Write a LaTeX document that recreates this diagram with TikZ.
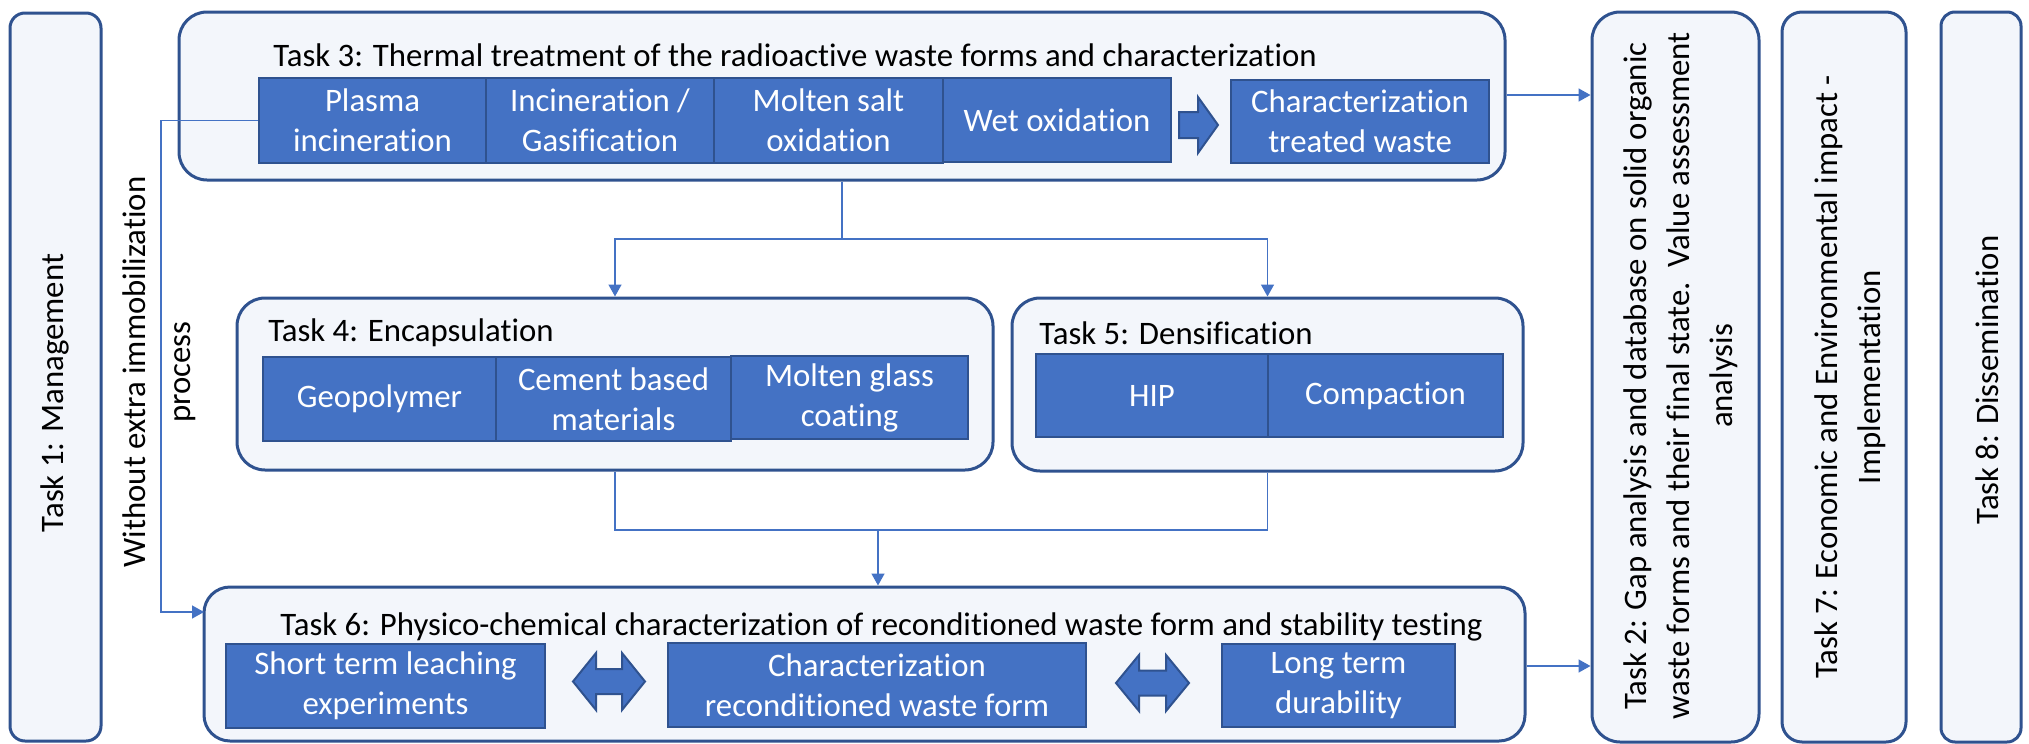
\documentclass[tikz,border=0pt]{standalone}
\usepackage{fontspec}
\setmainfont{Carlito}[Ligatures=NoCommon]
\usetikzlibrary{arrows.meta}
\definecolor{bfill}{RGB}{68,114,196}
\definecolor{bdr}{RGB}{47,82,143}
\definecolor{lbg}{HTML}{F3F6FB}
\definecolor{lnk}{RGB}{68,114,196}
\begin{document}
\begin{tikzpicture}[x=0.5pt,y=-0.5pt,
  outer/.style={draw=bdr, fill=lbg, line width=1.5pt, inner sep=0pt},
  inner/.style={draw=bdr, fill=bfill, line width=1pt, text=white, align=center, inner sep=0pt, font=\fontsize{16.4}{20}\selectfont},
  title/.style={anchor=west, inner sep=0pt, font=\fontsize{16.4}{20}\selectfont},
  vtext/.style={rotate=90, align=center, inner sep=0pt, font=\fontsize{16.4}{21.5}\selectfont},
  conn/.style={draw=lnk, line width=0.75pt},
  arr/.style={conn, -{Triangle[length=6pt,width=6.5pt]}},
  blockarrow/.style={draw=bdr, fill=bfill, line width=1pt, line join=miter}
]
\useasboundingbox (0,0) rectangle (2029,744);

% side tasks
\node[outer, rounded corners=7.5pt, minimum width=45.5pt, minimum height=364pt] (t1) at (55.5,377) {};
\node[vtext] (t1txt) at (55,393) {Task 1: Management};

\node[outer, rounded corners=14pt, minimum width=83.5pt, minimum height=365pt] (t2) at (1675.5,377) {};
\node[vtext] (t2txt) at (1681,376) {Task 2: Gap analysis and database on solid organic\\waste forms and their final state.\ \ Value assessment\\analysis};

\node[outer, rounded corners=10pt, minimum width=62pt, minimum height=365pt] (t7) at (1844,377) {};
\node[vtext] (t7txt) at (1850,377) {Task 7: Economic and Environmental impact -\\Implementation};

\node[outer, rounded corners=7pt, minimum width=40pt, minimum height=365pt] (t8) at (1981,377) {};
\node[vtext] (t8txt) at (1987,380) {Task 8: Dissemination};

% Task 3
\node[outer, rounded corners=14pt, minimum width=663pt, minimum height=84pt] (t3) at (842,96) {};
\node[title] (t3t) at (273,55) {Task 3: Thermal treatment of the radioactive waste forms and characterization};
\node[inner, minimum width=113.5pt, minimum height=42.5pt] (plasma) at (372.5,120.5) {Plasma\\incineration};
\node[inner, minimum width=114pt, minimum height=42.5pt] (incin) at (600,120.5) {Incineration /\\Gasification};
\node[inner, minimum width=114.5pt, minimum height=42.5pt] (molten) at (828.5,120.5) {Molten salt\\oxidation};
\node[inner, minimum width=114pt, minimum height=42pt] (wet) at (1057,120) {Wet oxidation};
\node[inner, minimum width=129pt, minimum height=41.5pt] (chartw) at (1360,121.5) {Characterization\\treated waste};
\draw[blockarrow] (1179,112) -- (1198,112) -- (1198,97) -- (1218,125) -- (1198,153) -- (1198,138) -- (1179,138) -- cycle;

% Task 4
\node[outer, rounded corners=14pt, minimum width=378pt, minimum height=86pt] (t4) at (615,384) {};
\node[title] (t4t) at (268,333) {Task 4: Encapsulation};
\node[inner, minimum width=116.5pt, minimum height=42pt] (geo) at (379.5,399) {Geopolymer};
\node[inner, minimum width=117.5pt, minimum height=42pt] (cem) at (613.5,399) {Cement based\\materials};
\node[inner, minimum width=118.5pt, minimum height=41.5pt] (mglass) at (849.5,397.5) {Molten glass\\coating};

% Task 5
\node[outer, rounded corners=14pt, minimum width=255.5pt, minimum height=86.5pt] (t5) at (1267.5,384.5) {};
\node[title] (t5t) at (1039,333) {Task 5: Densification};
\node[inner, minimum width=116pt, minimum height=41.5pt] (hip) at (1152,395.5) {HIP};
\node[inner, minimum width=117.5pt, minimum height=41.5pt] (comp) at (1385.5,395.5) {Compaction};

% Task 6
\node[outer, rounded corners=13pt, minimum width=660.5pt, minimum height=77pt] (t6) at (864.5,664) {};
\node[title] (t6t) at (280,627) {Task 6: Physico-chemical characterization of reconditioned waste form and stability testing};
\node[inner, minimum width=159.5pt, minimum height=42pt] (short) at (385.5,686) {Short term leaching\\experiments};
\node[inner, minimum width=209pt, minimum height=42pt] (charrec) at (877,685) {Characterization\\reconditioned waste form};
\node[inner, minimum width=116.5pt, minimum height=41.5pt] (long) at (1338.5,685.5) {Long term\\durability};
\draw[blockarrow] (573,681.5) -- (596,653) -- (596,669) -- (622,669) -- (622,653) -- (645,681.5) -- (622,710) -- (622,694) -- (596,694) -- (596,710) -- cycle;
\draw[blockarrow] (1116,683) -- (1139,655) -- (1139,670.5) -- (1166,670.5) -- (1166,655) -- (1189,683) -- (1166,711) -- (1166,695.5) -- (1139,695.5) -- (1139,711) -- cycle;

% side text
\node[vtext, font=\fontsize{16.4}{22.5}\selectfont] (without) at (159.5,372) {Without extra immobilization\\process};

% connectors
\coordinate (split) at (842,239);
\coordinate (merge) at (878,530);
\coordinate (t6in) at (204,612);
\coordinate (bypass) at (161,0);
\draw[conn] (t3.south) -- (split);
\draw[arr] (split) -| (t4.north);
\draw[arr] (split) -| (t5.north);
\draw[conn] (t4.south) |- (merge);
\draw[conn] (t5.south) |- (merge);
\draw[arr] (merge) -- (merge |- t6.north);
\draw[arr] (plasma.west) -| (bypass |- t6in) -- (t6in);
\draw[arr] (t3.east |- 0,95) -- (t2.west |- 0,95);
\draw[arr] (t6.east |- 0,666) -- (t2.west |- 0,666);
\end{tikzpicture}
\end{document}
